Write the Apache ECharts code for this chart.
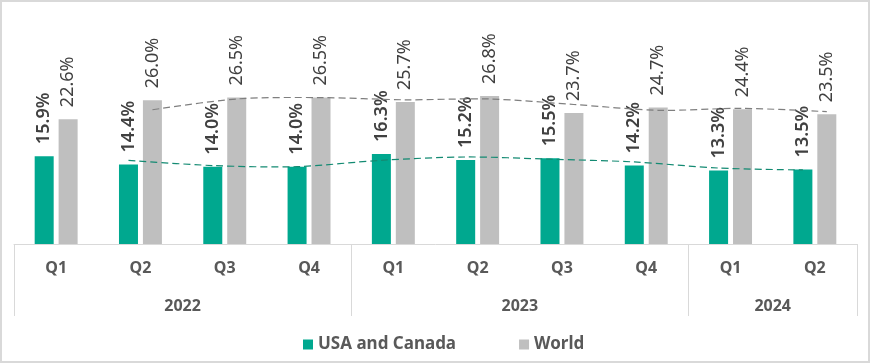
<!DOCTYPE html>
<html>
<head>
<meta charset="utf-8">
<script src="https://cdn.jsdelivr.net/npm/echarts@6/dist/echarts.min.js"></script>
<style>
html,body{margin:0;padding:0;background:#fff;}
#chart{width:871px;height:364px;}
</style>
</head>
<body>
<div id="chart"></div>
<script>
var quarters = ['Q1','Q2','Q3','Q4','Q1','Q2','Q3','Q4','Q1','Q2'];
var years = ['2022','2023','2024'];
var yearSizes = [4,4,2];
var usaCanada = [15.9,14.4,14.0,14.0,16.3,15.2,15.5,14.2,13.3,13.5];
var world = [22.6,26.0,26.5,26.5,25.7,26.8,23.7,24.7,24.4,23.5];

// 2-period moving average trendlines (as in the Excel chart)
function movingAvg(arr){
  return arr.map(function(v,i){ return i === 0 ? null : (arr[i-1] + v) / 2; });
}
var usaTrend = movingAvg(usaCanada);
var worldTrend = movingAvg(world);

// year group boundaries & centres on the category scale
var bounds = [0], centres = [], acc = 0;
yearSizes.forEach(function(n){ centres.push(acc + n/2); acc += n; bounds.push(acc); });

var BAR_W = 19, BAR_GAP = 0.26;
var barOffset = BAR_W/2 + BAR_W*BAR_GAP/2;
var FONT = 'Noto Sans';

function trendSeries(name, values, offset, color){
  return {
    type: 'custom',
    name: name,
    xAxisIndex: 0, yAxisIndex: 0,
    silent: true, z: 5,
    data: values.map(function(v,i){ return [i, v]; }),
    renderItem: function(params, api){
      if (params.dataIndex !== 0) return null;
      var pts = [];
      values.forEach(function(v,i){
        if (v == null) return;
        var p = api.coord([i, v]);
        pts.push([p[0] + offset, p[1]]);
      });
      return {
        type: 'polyline',
        shape: { points: pts, smooth: 0.3 },
        style: { stroke: color, lineWidth: 1.2, fill: null, lineDash: [7, 4] }
      };
    }
  };
}

var chart = echarts.init(document.getElementById('chart'));
chart.setOption({
  animation: false,
  textStyle: { fontFamily: FONT },
  grid: { left: 14, right: 14, top: 23, bottom: 120 },
  legend: {
    data: ['USA and Canada', 'World'],
    left: 298, top: 331,
    icon: 'rect', itemWidth: 10, itemHeight: 10, itemGap: 63,
    textStyle: { fontFamily: FONT, fontSize: 17, fontWeight: 'bold', color: '#595959' }
  },
  xAxis: [{
    type: 'category', data: quarters, position: 'bottom',
    axisLine: { show: true, lineStyle: { color: '#D9D9D9', width: 1 } },
    axisTick: { show: false },
    axisLabel: { fontFamily: FONT, fontSize: 16, fontWeight: 'bold', color: '#595959', margin: 16 }
  }, {
    type: 'value', position: 'bottom', min: 0, max: quarters.length,
    axisLine: { show: false },
    splitLine: { show: false },
    axisTick: { show: true, customValues: bounds, length: 72, lineStyle: { color: '#D9D9D9', width: 1 } },
    axisLabel: {
      customValues: centres, margin: 54,
      fontFamily: FONT, fontSize: 16, fontWeight: 'bold', color: '#595959',
      formatter: function(v){ var i = centres.indexOf(v); return i >= 0 ? years[i] : ''; }
    }
  }],
  yAxis: { type: 'value', min: 0, max: 40, show: false, splitLine: { show: false } },
  graphic: [{
    type: 'rect', silent: true, z: 100,
    shape: { x: 1, y: 1, width: 868, height: 361 },
    style: { fill: null, stroke: '#D9D9D9', lineWidth: 2 }
  }],
  series: [{
    name: 'USA and Canada', type: 'bar', data: usaCanada,
    barWidth: BAR_W, barGap: (BAR_GAP*100) + '%',
    itemStyle: { color: '#00A88F' },
    label: {
      show: true, position: 'top', rotate: 90, align: 'left', verticalAlign: 'middle', distance: 12,
      fontFamily: FONT, fontSize: 18, fontWeight: 600, color: '#404040',
      formatter: function(p){ return p.value.toFixed(1) + '%'; }
    }
  }, {
    name: 'World', type: 'bar', data: world,
    barWidth: BAR_W,
    itemStyle: { color: '#BFBFBF' },
    label: {
      show: true, position: 'top', rotate: 90, align: 'left', verticalAlign: 'middle', distance: 12,
      fontFamily: FONT, fontSize: 18, color: '#404040',
      formatter: function(p){ return p.value.toFixed(1) + '%'; }
    }
  },
  trendSeries('USA trend', usaTrend, -barOffset, '#138A72'),
  trendSeries('World trend', worldTrend, barOffset, '#7F7F7F')
  ]
});
</script>
</body>
</html>
